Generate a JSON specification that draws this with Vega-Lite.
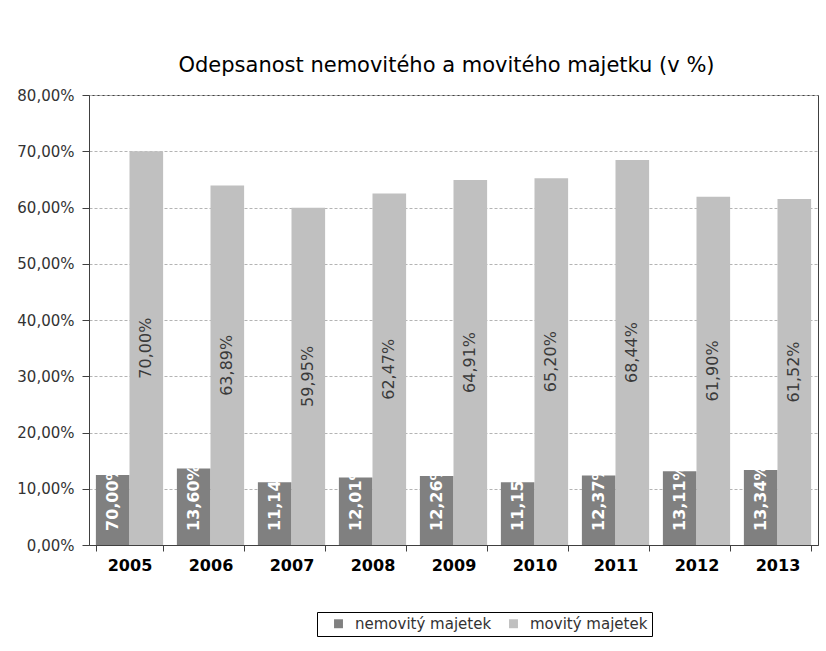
{
  "$schema": "https://vega.github.io/schema/vega-lite/v6.json",
  "autosize": "none",
  "width": 729,
  "height": 450,
  "padding": {"left": 89, "top": 95, "right": 8, "bottom": 106},
  "background": "white",
  "title": {
    "text": "Odepsanost nemovitého a movitého majetku (v %)",
    "font": "DejaVu Sans",
    "fontSize": 21,
    "fontWeight": "normal",
    "color": "#000000",
    "offset": 12,
    "dx": -7
  },
  "data": {
    "values": [
      {"year": "2005", "series": "nemovitý majetek", "value": 0.1245, "label": "70,00%"},
      {"year": "2005", "series": "movitý majetek", "value": 0.7000, "label": "70,00%"},
      {"year": "2006", "series": "nemovitý majetek", "value": 0.1360, "label": "13,60%"},
      {"year": "2006", "series": "movitý majetek", "value": 0.6389, "label": "63,89%"},
      {"year": "2007", "series": "nemovitý majetek", "value": 0.1114, "label": "11,14%"},
      {"year": "2007", "series": "movitý majetek", "value": 0.5995, "label": "59,95%"},
      {"year": "2008", "series": "nemovitý majetek", "value": 0.1201, "label": "12,01%"},
      {"year": "2008", "series": "movitý majetek", "value": 0.6247, "label": "62,47%"},
      {"year": "2009", "series": "nemovitý majetek", "value": 0.1226, "label": "12,26%"},
      {"year": "2009", "series": "movitý majetek", "value": 0.6491, "label": "64,91%"},
      {"year": "2010", "series": "nemovitý majetek", "value": 0.1115, "label": "11,15%"},
      {"year": "2010", "series": "movitý majetek", "value": 0.6520, "label": "65,20%"},
      {"year": "2011", "series": "nemovitý majetek", "value": 0.1237, "label": "12,37%"},
      {"year": "2011", "series": "movitý majetek", "value": 0.6844, "label": "68,44%"},
      {"year": "2012", "series": "nemovitý majetek", "value": 0.1311, "label": "13,11%"},
      {"year": "2012", "series": "movitý majetek", "value": 0.6190, "label": "61,90%"},
      {"year": "2013", "series": "nemovitý majetek", "value": 0.1334, "label": "13,34%"},
      {"year": "2013", "series": "movitý majetek", "value": 0.6152, "label": "61,52%"}
    ]
  },
  "encoding": {
    "x": {
      "field": "year",
      "type": "nominal",
      "scale": {"paddingInner": 0.17, "paddingOuter": 0.085},
      "axis": {
        "title": null,
        "labelAngle": 0,
        "labelFont": "DejaVu Sans",
        "labelFontSize": 16,
        "labelFontWeight": "bold",
        "labelColor": "#000000",
        "labelPadding": 6,
        "tickBand": "extent",
        "tickSize": 6,
        "tickColor": "#404040",
        "domainColor": "#404040",
        "grid": false
      }
    },
    "xOffset": {
      "field": "series",
      "type": "nominal",
      "scale": {"domain": ["nemovitý majetek", "movitý majetek"], "paddingInner": 0, "paddingOuter": 0}
    }
  },
  "layer": [
    {
      "mark": {"type": "bar"},
      "encoding": {
        "y": {
          "field": "value",
          "type": "quantitative",
          "scale": {"domain": [0, 0.8], "nice": false},
          "axis": {
            "title": null,
            "values": [0, 0.1, 0.2, 0.3, 0.4, 0.5, 0.6, 0.7, 0.8],
            "labelExpr": "replace(format(datum.value, '.2%'), '.', ',')",
            "labelFont": "DejaVu Sans",
            "labelFontSize": 15,
            "labelColor": "#333333",
            "labelPadding": 8,
            "tickSize": 7,
            "tickColor": "#404040",
            "domainColor": "#404040",
            "grid": true,
            "gridColor": "#b4b4b4",
            "gridDash": [3, 2],
            "gridWidth": 1
          }
        },
        "color": {
          "field": "series",
          "type": "nominal",
          "scale": {"domain": ["nemovitý majetek", "movitý majetek"], "range": ["#808080", "#c0c0c0"]},
          "legend": {
            "title": null,
            "orient": "none",
            "legendX": 228,
            "legendY": 517,
            "direction": "horizontal",
            "strokeColor": "#000000",
            "fillColor": "#ffffff",
            "padding": 4,
            "labelFont": "DejaVu Sans",
            "labelFontSize": 15,
            "labelColor": "#333333",
            "symbolType": "square",
            "symbolSize": 80,
            "symbolStrokeWidth": 0,
            "symbolOffset": 10,
            "labelOffset": 9,
            "columnPadding": 4
          }
        }
      }
    },
    {
      "transform": [{"filter": "datum.series == 'movitý majetek'"}],
      "mark": {
        "type": "text",
        "angle": 270,
        "align": "center",
        "baseline": "middle",
        "font": "DejaVu Sans",
        "fontSize": 16,
        "color": "#3a3a3a"
      },
      "encoding": {
        "y": {
          "field": "value",
          "type": "quantitative",
          "scale": {"domain": [0, 1.6], "nice": false},
          "axis": null
        },
        "text": {"field": "label"}
      }
    },
    {
      "transform": [{"filter": "datum.series == 'nemovitý majetek'"}],
      "mark": {
        "type": "text",
        "angle": 270,
        "align": "left",
        "baseline": "middle",
        "dx": 14,
        "font": "DejaVu Sans",
        "fontSize": 16,
        "fontWeight": "bold",
        "color": "#ffffff"
      },
      "encoding": {
        "y": {
          "datum": 0,
          "type": "quantitative",
          "scale": {"domain": [0, 0.8], "nice": false},
          "axis": null
        },
        "text": {"field": "label"}
      }
    }
  ],
  "resolve": {"scale": {"y": "independent"}},
  "config": {
    "view": {"stroke": "#404040", "strokeWidth": 1, "fill": "#ffffff"}
  }
}
